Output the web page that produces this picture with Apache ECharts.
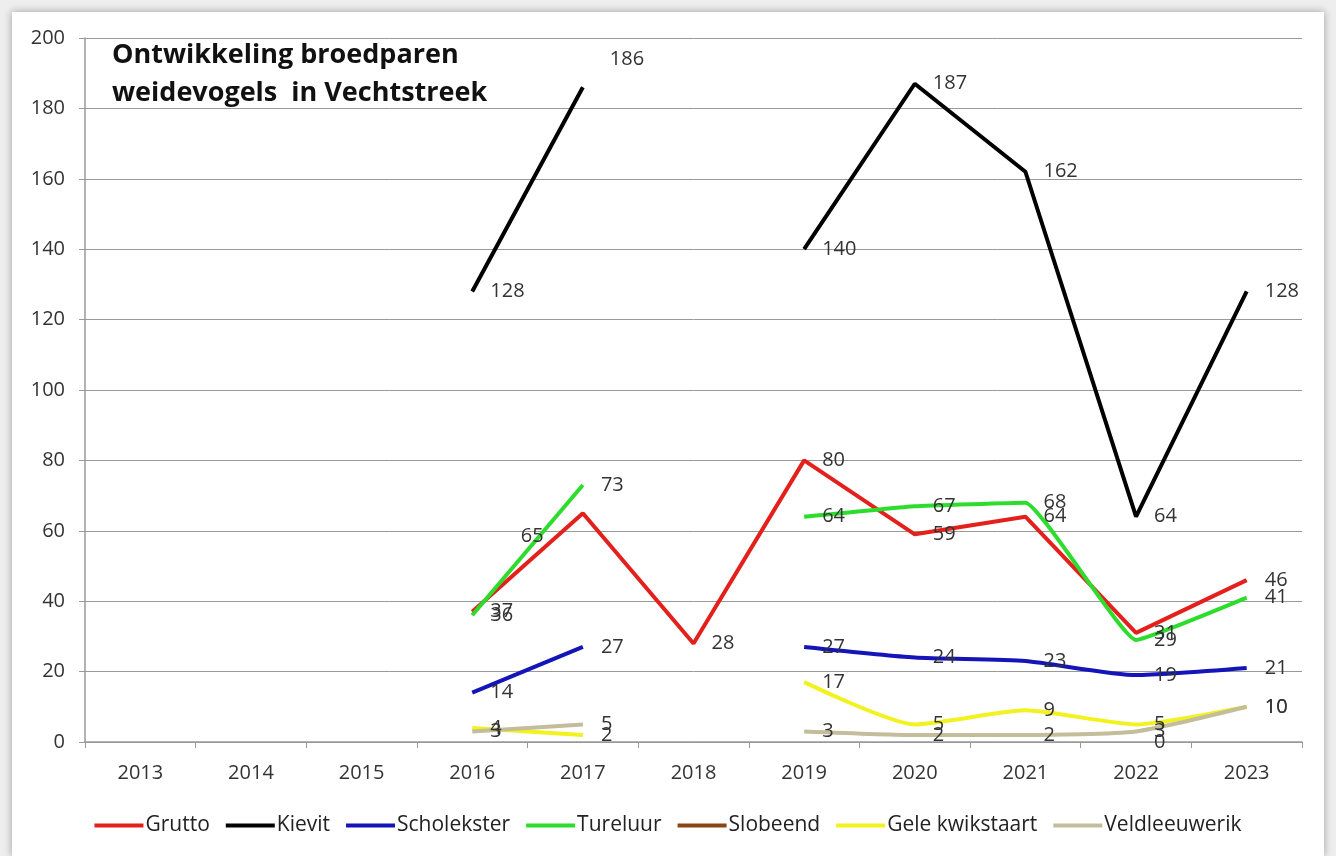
<!DOCTYPE html>
<html>
<head>
<meta charset="utf-8">
<script src="https://cdn.jsdelivr.net/npm/echarts@6/dist/echarts.min.js"></script>
<style>
  html, body { margin: 0; padding: 0; background: #eeeeee; }
  #frame { position: absolute; left: 12px; top: 12px; width: 1312px; height: 844px; background: #fff; box-shadow: 0 0 8px rgba(0,0,0,0.35); }
  #chart { position: absolute; left: -12px; top: -12px; width: 1336px; height: 856px; }
</style>
</head>
<body>
<div id="frame"><div id="chart"></div></div>
<script>
// jaren en broedparen per soort
const years = ['2013', '2014', '2015', '2016', '2017', '2018', '2019', '2020', '2021', '2022', '2023'];
const grutto = [null, null, null, 37, 65, 28, 80, 59, 64, 31, 46];
const kievit = [null, null, null, 128, 186, null, 140, 187, 162, 64, 128];
const scholekster = [null, null, null, 14, 27, null, 27, 24, 23, 19, 21];
const tureluur = [null, null, null, 36, 73, null, 64, 67, 68, 29, 41];
const slobeend = [null, null, null, null, null, null, null, null, null, 0, null];
const geleKwikstaart = [null, null, null, 4, 2, null, 17, 5, 9, 5, 10];
const veldleeuwerik = [null, null, null, 3, 5, null, 3, 2, 2, 3, 10];

const font = 'Open Sans, sans-serif';

// a few labels sit elsewhere in the original
const labelMoves = {
  Kievit: { 4: { position: [27, -38] } },
  Grutto: { 4: { position: [-62, 13] } }
};

function serie(name, data, color, smooth) {
  const moves = labelMoves[name] || {};
  return {
    name: name,
    type: 'line',
    data: data.map(function (v, i) {
      return moves[i] ? { value: v, label: moves[i] } : v;
    }),
    smooth: smooth || false,
    showSymbol: true,
    symbol: 'circle',
    symbolSize: 0.1,
    lineStyle: { color: color, width: 4 },
    itemStyle: { color: color },
    label: {
      show: true,
      position: 'right',
      distance: 18,
      offset: [0, 3],
      color: '#333',
      fontSize: 20,
      fontFamily: font
    },
    labelLayout: { hideOverlap: false },
    emphasis: { disabled: true }
  };
}

const chart = echarts.init(document.getElementById('chart'));
chart.setOption({
  animation: false,
  backgroundColor: 'transparent',
  title: {
    text: 'Ontwikkeling broedparen\nweidevogels  in Vechtstreek',
    left: 107,
    top: 31,
    textStyle: { fontSize: 27, fontWeight: 'bold', color: '#111', lineHeight: 38, fontFamily: 'Open Sans, sans-serif' }
  },
  legend: {
    bottom: 15,
    left: 'center',
    itemWidth: 49,
    itemHeight: 4,
    itemGap: 16,
    icon: 'rect',
    textStyle: { fontSize: 21, color: '#222', fontFamily: font, padding: [0, 0, 0, -3] },
    data: ['Grutto', 'Kievit', 'Scholekster', 'Tureluur', 'Slobeend', 'Gele kwikstaart', 'Veldleeuwerik']
  },
  grid: { left: 85, right: 34, top: 38, bottom: 114, containLabel: false },
  xAxis: {
    type: 'category',
    data: years,
    boundaryGap: true,
    axisLine: { lineStyle: { color: '#999', width: 1.5 } },
    axisTick: { show: true, length: 6, lineStyle: { color: '#999' } },
    axisLabel: { fontSize: 20, color: '#333', margin: 21, fontFamily: font }
  },
  yAxis: {
    type: 'value',
    min: 0,
    max: 200,
    interval: 20,
    axisLine: { show: true, lineStyle: { color: '#999', width: 1.5 } },
    axisTick: { show: true, length: 6, lineStyle: { color: '#999' } },
    axisLabel: { fontSize: 20, color: '#333', margin: 20, fontFamily: font },
    splitLine: { lineStyle: { color: '#999', width: 1 } }
  },
  series: [
    serie('Grutto', grutto, '#e3201b'),
    serie('Kievit', kievit, '#000000'),
    serie('Scholekster', scholekster, '#1414b8', 0.2),
    serie('Tureluur', tureluur, '#2edc2e', 0.1),
    serie('Slobeend', slobeend, '#8b4513'),
    serie('Gele kwikstaart', geleKwikstaart, '#f2f21e', 0.2),
    serie('Veldleeuwerik', veldleeuwerik, '#c4bd9b', 0.2)
  ]
});
</script>
</body>
</html>
